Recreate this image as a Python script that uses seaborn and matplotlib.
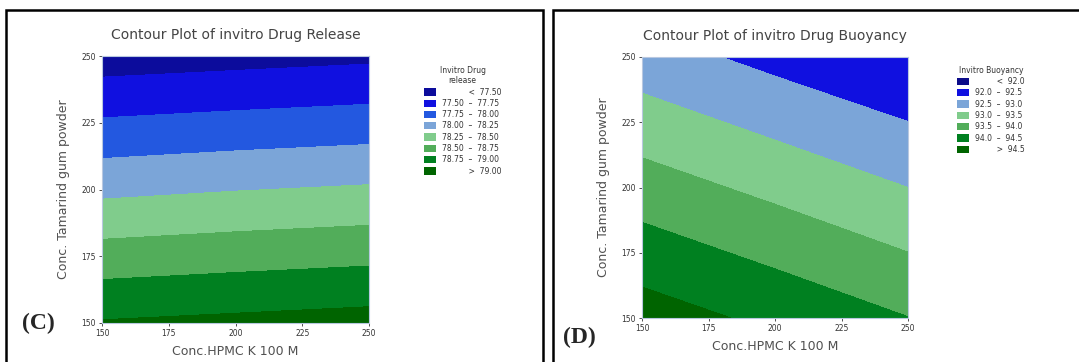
import numpy as np
import seaborn as sns
import matplotlib.pyplot as plt
from matplotlib.patches import Patch, Rectangle

# grid (x = HPMC, y = tamarind gum)
hpmc = [150, 200, 250]
tamarind = [150, 200, 250]
release = [[79.02, 79.06, 79.10],
           [78.19, 78.24, 78.28],
           [77.37, 77.41, 77.45]]
buoyancy = [[94.74, 94.38, 94.01],
            [93.73, 93.37, 93.00],
            [92.72, 92.35, 92.01]]

release_levels = [77.50, 77.75, 78.00, 78.25, 78.50, 78.75, 79.00]
buoyancy_levels = [92.0, 92.5, 93.0, 93.5, 94.0, 94.5]
ticks = [150, 175, 200, 225, 250]

release_cols = sns.color_palette(["#0c0c9c", "#1010e0", "#2358e0", "#7ba5d8",
                                  "#80cc8c", "#52ad5a", "#008020", "#006400"])
buoy_cols = sns.color_palette(["#0c0c8a", "#1010e0", "#7ba5d8", "#80cc8c",
                               "#52ad5a", "#008020", "#006400"])

sns.set_style("white")
plt.rcParams["font.family"] = ["DejaVu Sans"]

fig = plt.figure(figsize=(10.79, 3.62), dpi=100)

# panel borders
fig.patches.append(Rectangle((6/1079, -0.1), (543-6)/1079, 1.1 - 10/362, transform=fig.transFigure,
                             fill=False, lw=1.8, ec="black"))
fig.patches.append(Rectangle((553/1079, -0.1), 0.6, 1.1 - 10/362, transform=fig.transFigure,
                             fill=False, lw=1.8, ec="black"))

def sp(s):
    # blank out a number with same-width spaces, to line up the "<" / ">" rows
    out = ""
    for ch in s:
        out += "\u2008" if ch == "." else "\u2007"
    return out

def labels_for(levels, fmt):
    out = [sp(fmt % levels[0]) + "  <  " + fmt % levels[0]]
    for a, b in zip(levels[:-1], levels[1:]):
        out.append(fmt % a + "  \u2013  " + fmt % b)
    out.append(sp(fmt % levels[-1]) + "  >  " + fmt % levels[-1])
    return out

def panel(rect, z, levels, cols, title, leg_title, fmt, leg_pos, tag, tag_pos):
    ax = fig.add_axes(rect)
    X, Y = np.meshgrid(hpmc, tamarind)
    ax.contourf(X, Y, np.array(z), levels=[0] + levels + [200], colors=cols)
    ax.set_xlim(150, 250)
    ax.set_ylim(150, 250)
    ax.set_xticks(ticks)
    ax.set_yticks(ticks)
    ax.tick_params(labelsize=5.5, colors="#333333", length=2.5, width=0.6, direction="out",
                   bottom=True, left=True, pad=2)
    for s in ax.spines.values():
        s.set_color("#b8c8e0")
        s.set_linewidth(0.8)
    ax.set_title(title, fontsize=10, color="#444444", pad=12)
    ax.set_xlabel("Conc.HPMC K 100 M", fontsize=9, color="#505050", labelpad=5)
    ax.set_ylabel("Conc. Tamarind gum powder", fontsize=9, color="#505050", labelpad=8)
    handles = [Patch(facecolor=c, edgecolor="none") for c in cols]
    leg = fig.legend(handles, labels_for(levels, fmt), title=leg_title, loc="upper left",
                     bbox_to_anchor=leg_pos, frameon=False, fontsize=5.5, title_fontsize=5.5,
                     handlelength=1.6, handleheight=1.1, labelspacing=0.3, handletextpad=0.8,
                     borderpad=0)
    for t in leg.get_texts():
        t.set_color("#333333")
    leg.get_title().set_color("#333333")
    leg.get_title().set_multialignment("center")
    fig.text(tag_pos[0], tag_pos[1], tag, fontsize=17, fontweight="bold",
             family="Liberation Serif", ha="left", va="center")
    return ax

panel([102/1079, 1 - 323/362, 267/1079, 267/362], release, release_levels, release_cols,
      "Contour Plot of invitro Drug Release", "Invitro Drug\nrelease", "%.2f",
      (420/1079, 1 - 62/362), "(C)", (22/1079, 1 - 323/362))
panel([642/1079, 1 - 318/362, 266/1079, 261/362], buoyancy, buoyancy_levels, buoy_cols,
      "Contour Plot of invitro Drug Buoyancy", "Invitro Buoyancy", "%.1f",
      (953/1079, 1 - 62/362), "(D)", (563/1079, 1 - 337/362))

fig.savefig("out.png", dpi=100)
